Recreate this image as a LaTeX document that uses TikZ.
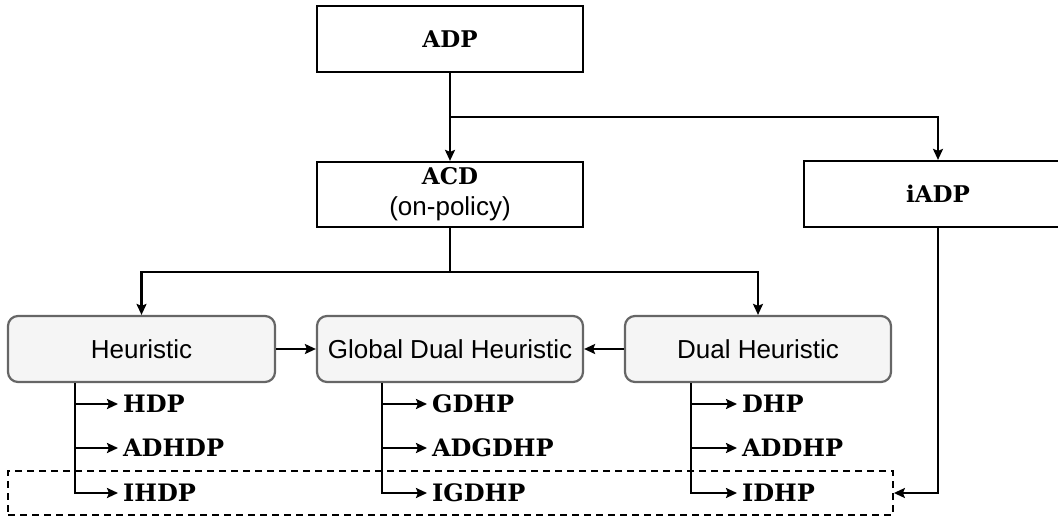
\documentclass[tikz,border=0pt]{standalone}
\usepackage{fontspec}
\newfontfamily\sansf{Liberation Sans}
\newfontfamily\slabf{DejaVu Serif}[BoldFont={DejaVu Serif Bold}]
\usetikzlibrary{arrows.meta}
\begin{document}
\begin{tikzpicture}[x=1pt,y=-1pt,
  line width=2.2pt,
  tip/.style={-{Stealth[length=11pt,width=10pt,inset=2pt]}},
  plainbox/.style={draw=black,fill=white,minimum width=266pt,minimum height=66pt,inner sep=0pt},
  methodbox/.style={draw=black!60,fill=black!4,rounded corners=10pt,minimum width=266pt,minimum height=66pt,inner sep=0pt,
    font=\sansf\fontsize{26}{31}\selectfont},
  title/.style={font=\slabf\bfseries\fontsize{23}{27}\selectfont},
  algo/.style={anchor=west,inner xsep=4pt,inner ysep=0pt,font=\slabf\bfseries\fontsize{24}{28}\selectfont},
  dashbox/.style={draw=black,dash pattern=on 7pt off 5pt,line width=1.8pt,minimum width=885pt,minimum height=44pt,inner sep=0pt}
]
\clip (0,0) rectangle (1058,517);

% top-level boxes
\node[plainbox,title] (adp) at (450,39) {ADP};
\node[plainbox,minimum height=65pt,align=center,font=\fontsize{26}{31}\selectfont] (acd) at (450,194.5)
  {{\slabf\bfseries\fontsize{23}{27}\selectfont ACD}\\{\sansf (on-policy)}};
\node[plainbox,title,minimum width=268pt] (iadp) at (938,194) {iADP};

% heuristic families
\node[methodbox,minimum width=267pt] (heur) at (141.5,349) {Heuristic};
\node[methodbox] (gdh) at (450,349) {Global Dual Heuristic};
\node[methodbox] (dh) at (758,349) {Dual Heuristic};

% grouping of the incremental variants
\node[dashbox] (grp) at (450.5,493) {};

% algorithm labels
\node[algo] (hdp)    at (118,404) {HDP};
\node[algo] (adhdp)  at (118,448) {ADHDP};
\node[algo] (ihdp)   at (118,493) {IHDP};
\node[algo] (gdhp)   at (427,404) {GDHP};
\node[algo] (adgdhp) at (427,448) {ADGDHP};
\node[algo] (igdhp)  at (427,493) {IGDHP};
\node[algo] (dhp)    at (737,404) {DHP};
\node[algo] (addhp)  at (737,448) {ADDHP};
\node[algo] (idhp)   at (737,493) {IDHP};

% ADP branches
\coordinate (b1) at (450,117);
\draw[tip] (adp.south) -- (acd.north);
\draw[tip] (b1) -| (iadp.north);

% ACD branches
\coordinate (b2) at (450,272);
\draw (acd.south) -- (b2);
\draw[tip] (b2) -| (heur.north);
\draw[tip] (b2) -| (dh.north);

% towards the global dual heuristic
\draw[tip] (heur.east) -- (gdh.west);
\draw[tip] (dh.west) -- (gdh.east);

% family to algorithm trees
\coordinate (hv) at ([xshift=68pt]heur.south west);
\coordinate (gv) at ([xshift=66pt]gdh.south west);
\coordinate (dv) at ([xshift=67pt]dh.south west);
\foreach \a in {hdp,adhdp,ihdp} \draw[tip] (hv) |- (\a.west);
\foreach \a in {gdhp,adgdhp,igdhp} \draw[tip] (gv) |- (\a.west);
\foreach \a in {dhp,addhp,idhp} \draw[tip] (dv) |- (\a.west);

% iADP feeds the incremental group
\draw[tip] (iadp.south) |- (grp.east);
\end{tikzpicture}
\end{document}
